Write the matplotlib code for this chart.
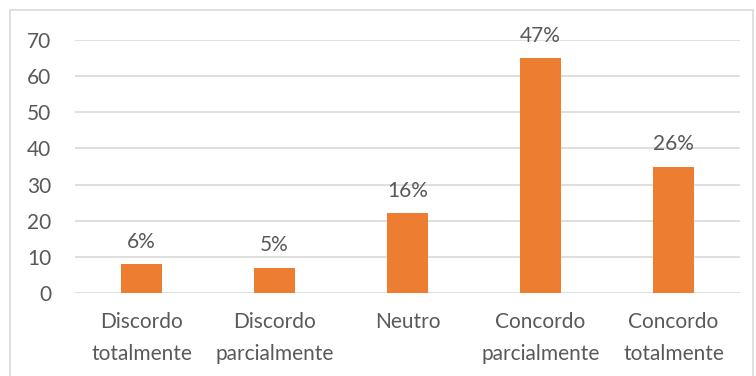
import matplotlib
matplotlib.use("Agg")
import matplotlib.pyplot as plt
from matplotlib.patches import Rectangle

categories = ["Discordo\ntotalmente", "Discordo\nparcialmente", "Neutro",
              "Concordo\nparcialmente", "Concordo\ntotalmente"]
values = [8, 7, 22, 65, 35]
pct_labels = ["6%", "5%", "16%", "47%", "26%"]
yticks = [0, 10, 20, 30, 40, 50, 60, 70]

W, H = 756, 376
fig = plt.figure(figsize=(W / 100, H / 100), dpi=100)
plt.rcParams['font.family'] = ['Lato', 'DejaVu Sans']

text_color = "#595959"
grid_color = "#D9D9D9"
bar_color = "#ED7D31"
fs = 15

# chart frame
fig.patches.append(Rectangle((10 / W, -0.05), 743 / W, 1 - 10 / H + 0.05,
                             transform=fig.transFigure, fill=False,
                             edgecolor=grid_color, linewidth=1.2))

ax = fig.add_axes([75 / W, 1 - 293 / H, 665 / W, 253 / H])
x = range(len(categories))
ax.bar(x, values, width=0.31, color=bar_color, zorder=3)
ax.set_xlim(-0.5, len(categories) - 0.5)
ax.set_ylim(0, 70)
ax.set_yticks(yticks)
ax.yaxis.grid(True, color=grid_color, linewidth=1.2, zorder=0)
for s in ax.spines.values():
    s.set_visible(False)
ax.tick_params(axis='both', length=0, labelsize=fs, colors=text_color)
ax.tick_params(axis='y', pad=17)
ax.tick_params(axis='x', pad=14)
ax.set_xticks(list(x))
ax.set_xticklabels(categories, linespacing=1.75)

for xi, v, lab in zip(x, values, pct_labels):
    ax.annotate(lab, (xi, v), xytext=(0, 9), textcoords='offset points',
                ha='center', va='bottom', fontsize=fs, color=text_color)

fig.savefig("out.png", dpi=100)
